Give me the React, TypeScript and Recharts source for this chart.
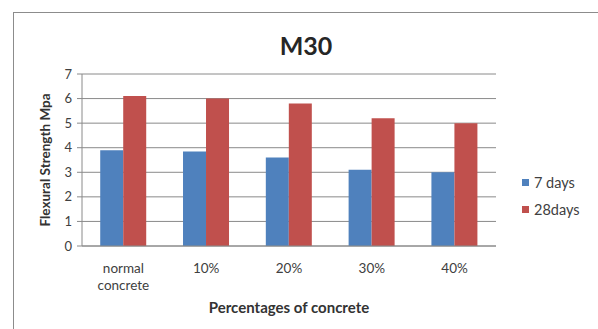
import React from 'react';
import { BarChart, Bar, XAxis, YAxis, CartesianGrid } from 'recharts';

const categories = ['normal concrete', '10%', '20%', '30%', '40%'];
const sevenDays = [3.9, 3.85, 3.6, 3.1, 3.0];
const twentyEightDays = [6.1, 6.0, 5.8, 5.2, 5.0];
const yTicks = [0, 1, 2, 3, 4, 5, 6, 7];

const seriesNames = { seven: '7 days', twentyEight: '28days' };
const colors = { seven: '#4F81BD', twentyEight: '#C0504D' };

const data = categories.map((name, i) => ({
  name,
  seven: sevenDays[i],
  twentyEight: twentyEightDays[i],
}));

const FONT = 'Lato, "Open Sans", sans-serif';

// category labels wrap on spaces, like Excel does for "normal concrete"
const CategoryTick = ({ x, y, payload }: any) => {
  const words = String(payload.value).split(' ');
  return (
    <text x={x} y={y} textAnchor="middle" fill="#404040" fontSize={13.5} fontFamily={FONT}>
      {words.map((w, i) => (
        <tspan key={i} x={x} dy={i === 0 ? 19 : 17}>
          {w}
        </tspan>
      ))}
    </text>
  );
};

// legend drawn outside the chart so it doesn't eat plot space
const LegendBox = () => (
  <div
    style={{
      position: 'absolute',
      left: 522,
      top: 169,
      fontFamily: FONT,
      fontSize: 14.5,
      color: '#404040',
    }}
  >
    {(['seven', 'twentyEight'] as const).map((k) => (
      <div key={k} style={{ display: 'flex', alignItems: 'center', height: 27 }}>
        <span
          style={{ width: 7, height: 7, background: colors[k], display: 'inline-block', marginRight: 5 }}
        />
        {seriesNames[k]}
      </div>
    ))}
  </div>
);

export default function App() {
  return (
    <div style={{ position: 'absolute', left: 0, top: 0, width: 598, height: 329, background: '#fff' }}>
      <div
        style={{
          position: 'absolute',
          left: 13,
          top: 12,
          width: 585,
          height: 317,
          borderTop: '1px solid #8c8c8c',
          borderLeft: '1px solid #8c8c8c',
        }}
      />
      <div
        style={{
          position: 'absolute',
          left: 0,
          top: 30,
          width: 612,
          textAlign: 'center',
          fontFamily: FONT,
          fontWeight: 'bold',
          fontSize: 25,
          color: '#262626',
        }}
      >
        M30
      </div>
      <BarChart
        width={598}
        height={329}
        data={data}
        margin={{ top: 74, right: 102, left: 35, bottom: 13 }}
        barCategoryGap="22%"
        barGap={0}
        style={{ position: 'absolute', left: 0, top: 0 }}
      >
        <CartesianGrid vertical={false} stroke="#8a8a8a" />
        <XAxis
          dataKey="name"
          height={70}
          tick={<CategoryTick />}
          tickLine={false}
          axisLine={{ stroke: '#8a8a8a' }}
          interval={0}
          label={{
            value: 'Percentages of concrete',
            position: 'insideBottom',
            offset: 3,
            style: { fontFamily: FONT, fontWeight: 'bold', fontSize: 15, fill: '#333' },
          }}
        />
        <YAxis
          width={47}
          domain={[0, 7]}
          ticks={yTicks}
          interval={0}
          tickSize={5}
          tickMargin={5}
          tickLine={{ stroke: '#8a8a8a' }}
          axisLine={{ stroke: '#8a8a8a' }}
          tick={{ fill: '#404040', fontSize: 13, fontFamily: FONT }}
          label={{
            value: 'Flexural Strength Mpa',
            angle: -90,
            position: 'insideLeft',
            offset: 10,
            style: { textAnchor: 'middle', fontFamily: FONT, fontWeight: 'bold', fontSize: 13.5, fill: '#333' },
          }}
        />
        <Bar dataKey="seven" name={seriesNames.seven} fill={colors.seven} isAnimationActive={false} />
        <Bar
          dataKey="twentyEight"
          name={seriesNames.twentyEight}
          fill={colors.twentyEight}
          isAnimationActive={false}
        />
      </BarChart>
      <LegendBox />
    </div>
  );
}
